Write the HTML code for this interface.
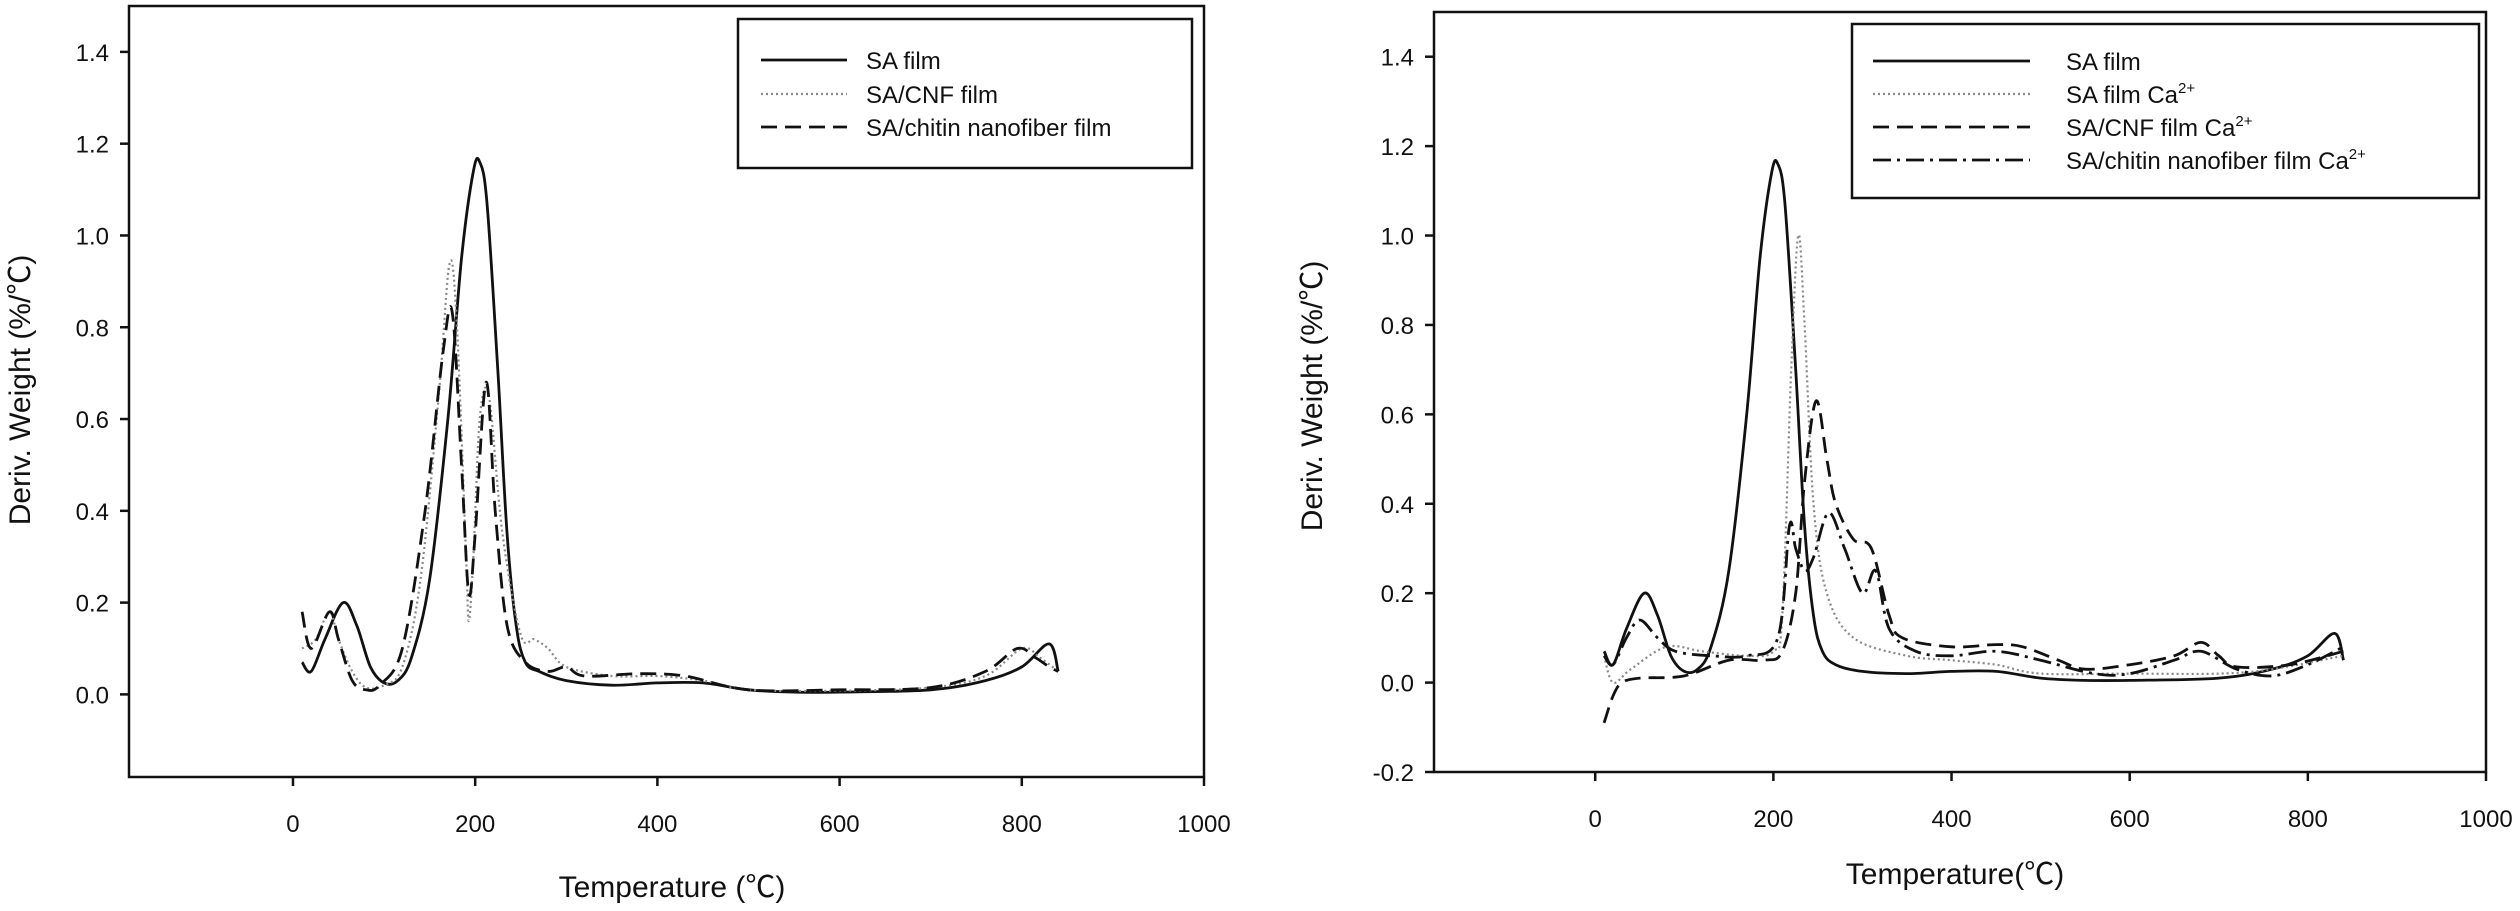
<!DOCTYPE html>
<html><head><meta charset="utf-8">
<style>
html,body{margin:0;padding:0;background:#fff;}
svg{display:block;font-family:"Liberation Sans","Noto Sans CJK SC",sans-serif;}
</style></head>
<body>
<svg id="root" width="2520" height="911" viewBox="0 0 2520 911" xmlns="http://www.w3.org/2000/svg"></svg>
<script>
// ---------- data ----------
const xTicks = [0, 200, 400, 600, 800, 1000];
const yTicksLeft = [0.0, 0.2, 0.4, 0.6, 0.8, 1.0, 1.2, 1.4];
const yTicksRight = [-0.2, 0.0, 0.2, 0.4, 0.6, 0.8, 1.0, 1.2, 1.4];

const L_SA_T = [10,20,35,55,70,85,100,115,130,150,170,185,198,205,213,225,235,245,255,270,300,350,400,450,500,550,600,700,760,800,830,840];
const L_SA_V = [0.07,0.05,0.12,0.2,0.15,0.06,0.025,0.03,0.08,0.25,0.6,0.95,1.14,1.16,1.07,0.7,0.35,0.15,0.07,0.05,0.03,0.02,0.025,0.025,0.01,0.005,0.005,0.01,0.03,0.06,0.11,0.05];
const L_CNF_T = [10,25,40,50,65,80,100,120,140,160,172,180,190,193,198,205,215,230,250,265,280,300,350,400,450,500,600,700,760,800,820,840];
const L_CNF_V = [0.1,0.12,0.18,0.12,0.05,0.015,0.02,0.06,0.25,0.65,0.94,0.8,0.3,0.16,0.3,0.6,0.65,0.35,0.13,0.12,0.1,0.06,0.04,0.04,0.03,0.01,0.008,0.015,0.04,0.1,0.08,0.05];
const L_CH_T = [10,20,40,50,65,80,95,120,145,165,175,185,193,200,212,222,235,255,280,300,320,380,430,500,600,700,760,795,815,830,840];
const L_CH_V = [0.18,0.1,0.18,0.12,0.03,0.01,0.02,0.1,0.4,0.75,0.83,0.5,0.22,0.35,0.68,0.4,0.15,0.07,0.05,0.06,0.04,0.045,0.04,0.01,0.01,0.015,0.05,0.1,0.08,0.06,0.05];

const R_SA_T = L_SA_T;
const R_SA_V = [0.07,0.04,0.12,0.2,0.15,0.06,0.025,0.03,0.08,0.25,0.6,0.95,1.14,1.16,1.07,0.7,0.35,0.15,0.07,0.04,0.025,0.02,0.025,0.025,0.01,0.005,0.005,0.01,0.03,0.06,0.11,0.05];
const R_SACA_T = [10,20,40,80,120,170,200,210,220,228,235,245,260,290,350,400,450,500,600,700,760,840];
const R_SACA_V = [0.06,0.0,0.03,0.08,0.07,0.06,0.07,0.15,0.7,1.0,0.8,0.4,0.2,0.1,0.06,0.05,0.04,0.02,0.02,0.02,0.03,0.06];
const R_CNF_T = [10,20,30,50,100,150,190,210,225,235,248,260,270,290,310,330,345,400,450,480,520,550,600,650,680,700,720,780,840];
const R_CNF_V = [-0.09,-0.03,0.0,0.01,0.015,0.05,0.05,0.07,0.2,0.45,0.63,0.5,0.4,0.32,0.3,0.15,0.1,0.08,0.085,0.08,0.05,0.03,0.04,0.06,0.09,0.06,0.035,0.04,0.07];
const R_CH_T = [10,20,35,50,70,90,130,170,205,218,225,235,245,262,280,300,315,330,360,400,450,500,560,600,650,680,720,760,800,840];
const R_CH_V = [0.06,0.04,0.1,0.14,0.1,0.07,0.06,0.06,0.1,0.35,0.3,0.25,0.28,0.38,0.3,0.2,0.25,0.12,0.07,0.06,0.07,0.05,0.02,0.02,0.05,0.07,0.03,0.015,0.04,0.08];

// ---------- drawing ----------
const NS = "http://www.w3.org/2000/svg";
const root = document.getElementById('root');
function mk(tag, attrs, parent){const e=document.createElementNS(NS,tag);for(const k in attrs)e.setAttribute(k,attrs[k]);(parent||root).appendChild(e);return e;}

function smoothPath(pts){
  let d = `M${pts[0][0].toFixed(1)},${pts[0][1].toFixed(1)}`;
  for(let i=0;i<pts.length-1;i++){
    const p0=pts[Math.max(0,i-1)],p1=pts[i],p2=pts[i+1],p3=pts[Math.min(pts.length-1,i+2)];
    const c1x=p1[0]+(p2[0]-p0[0])/6,c1y=p1[1]+(p2[1]-p0[1])/6;
    const c2x=p2[0]-(p3[0]-p1[0])/6,c2y=p2[1]-(p3[1]-p1[1])/6;
    d+=` C${c1x.toFixed(1)},${c1y.toFixed(1)} ${c2x.toFixed(1)},${c2y.toFixed(1)} ${p2[0].toFixed(1)},${p2[1].toFixed(1)}`;
  }
  return d;
}

const styles = {
  solid:{stroke:'#111','stroke-width':2.8},
  dotted:{stroke:'#888','stroke-width':2.2,'stroke-dasharray':'2 3'},
  dashed:{stroke:'#111','stroke-width':2.8,'stroke-dasharray':'16 8'},
  dashdot:{stroke:'#111','stroke-width':2.8,'stroke-dasharray':'18 6 3 6'}
};

function drawPanel(cfg){
  const g = mk('g',{});
  
  
  const {L,R,T,B,xmin,xmax,ymin,ymax} = cfg;
  const sx = v => L + (v - xmin)/(xmax - xmin)*(R - L);
  const sy = v => B - (v - ymin)/(ymax - ymin)*(B - T);
  const frame = mk('rect',{x:L,y:T,width:R-L,height:B-T,fill:'none',stroke:'#111','stroke-width':2.5},g);
  
  
  xTicks.forEach(t=>{
    const x=sx(t);
    const tk=mk('line',{x1:x,y1:B,x2:x,y2:B+9,stroke:'#111','stroke-width':2.5},g);
    
    
    const tx=mk('text',{x:x,y:B+55,'text-anchor':'middle','font-size':24,fill:'#111'},g);
    tx.textContent=t;
    
    
  });
  cfg.yTicks.forEach(t=>{
    const y=sy(t);
    const tk=mk('line',{x1:L-9,y1:y,x2:L,y2:y,stroke:'#111','stroke-width':2.5},g);
    
    
    const tx=mk('text',{x:L-20,y:y+9,'text-anchor':'end','font-size':24,fill:'#111'},g);
    tx.textContent=t.toFixed(1);
    
    
  });
  const xl=mk('text',{x:cfg.xlx,y:cfg.xly,'text-anchor':'middle','font-size':30,fill:'#111'},g);
  xl.textContent=cfg.xlabel;
  
  
  const yl=mk('text',{x:0,y:0,'text-anchor':'middle','font-size':30,fill:'#111',transform:`translate(${cfg.ylx},${cfg.yly}) rotate(-90)`},g);
  yl.textContent='Deriv. Weight (%/℃)';
  
  

  cfg.series.forEach(s=>{
    const pts = s.T.map((t,i)=>[sx(t), sy(s.V[i])]);
    const p = mk('path',Object.assign({d:smoothPath(pts),fill:'none','stroke-linejoin':'round'},styles[s.style]),g);
    
    
  });

  const lg = cfg.legend;
  const lgG = mk('g',{},g);
  
  
  mk('rect',{x:lg.x1,y:lg.y1,width:lg.x2-lg.x1,height:lg.y2-lg.y1,fill:'#fff',stroke:'#111','stroke-width':2.5},lgG);
  cfg.series.forEach((s,i)=>{
    const y = lg.rows[i];
    const ent = mk('g',{},lgG);
    
    
    mk('line',Object.assign({x1:lg.sx1,y1:y,x2:lg.sx2,y2:y},styles[s.style]),ent);
    const t = mk('text',{x:lg.tx,y:y+9,'font-size':24,fill:'#111'},ent);
    t.innerHTML = s.label;
  });
}

drawPanel({
  name:'left-chart', L:129, R:1204, T:6, B:777, xmin:-180, xmax:1000, ymin:-0.18, ymax:1.5,
  yTicks:yTicksLeft, xlabel:'Temperature (℃)', xlx:672, xly:897, ylx:30, yly:390,
  legend:{x1:738,y1:19,x2:1192,y2:168,sx1:761,sx2:847,tx:866,rows:[60,94,127]},
  series:[
    {id:'sa-film-line',T:L_SA_T,V:L_SA_V,style:'solid',label:'SA film'},
    {id:'sa-cnf-film-line',T:L_CNF_T,V:L_CNF_V,style:'dotted',label:'SA/CNF film'},
    {id:'sa-chitin-film-line',T:L_CH_T,V:L_CH_V,style:'dashed',label:'SA/chitin nanofiber film'}
  ]
});
drawPanel({
  name:'right-chart', L:1434, R:2486, T:12, B:772, xmin:-181, xmax:1000, ymin:-0.2, ymax:1.5,
  yTicks:yTicksRight, xlabel:'Temperature(℃)', xlx:1955, xly:884, ylx:1322, yly:396,
  legend:{x1:1852,y1:24,x2:2479,y2:198,sx1:1873,sx2:2030,tx:2066,rows:[61,94,127,160]},
  series:[
    {id:'sa-film-line-right',T:R_SA_T,V:R_SA_V,style:'solid',label:'SA film'},
    {id:'sa-film-ca-line',T:R_SACA_T,V:R_SACA_V,style:'dotted',label:'SA film Ca<tspan font-size="15" dy="-10">2+</tspan>'},
    {id:'sa-cnf-ca-line',T:R_CNF_T,V:R_CNF_V,style:'dashed',label:'SA/CNF film Ca<tspan font-size="15" dy="-10">2+</tspan>'},
    {id:'sa-chitin-ca-line',T:R_CH_T,V:R_CH_V,style:'dashdot',label:'SA/chitin nanofiber film Ca<tspan font-size="15" dy="-10">2+</tspan>'}
  ]
});
</script>
</body></html>
